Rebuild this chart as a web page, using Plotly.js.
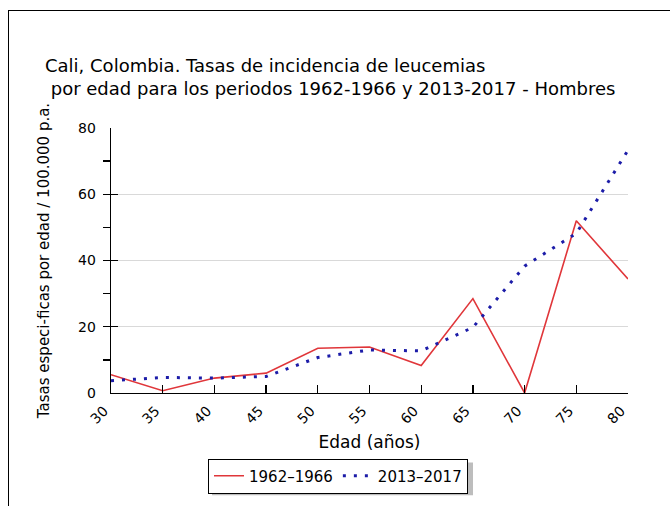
<!DOCTYPE html>
<html>
<head>
<meta charset="utf-8">
<script src="https://cdn.plot.ly/plotly-3.0.1.min.js"></script>
<style>
  html, body { margin: 0; padding: 0; background: #fff; overflow: hidden; }
  #frame { position: absolute; left: 8px; top: 10px; width: 700px; height: 600px;
           border-left: 1px solid #000; border-top: 1px solid #000; }
  #chart { position: absolute; left: 0; top: 0; width: 670px; height: 506px; }
</style>
</head>
<body>
<div id="frame"></div>
<div id="chart"></div>
<script>
// Age groups (years)
const ages = [30, 35, 40, 45, 50, 55, 60, 65, 70, 75, 80];
// Age-specific rates per 100,000 person-years
const rates1962_1966 = [5.5, 0.7, 4.5, 6.0, 13.5, 13.9, 8.3, 28.5, 0, 52.0, 34.4];
const rates2013_2017 = [3.7, 4.7, 4.5, 5.0, 10.7, 13.0, 12.7, 19.8, 38.3, 48.2, 73.3];
const seriesNames = ['1962\u20131966', '2013\u20132017'];
const yTicks = [0, 20, 40, 60, 80];

const FONT = '"DejaVu Sans", sans-serif';

const traces = [
  {
    x: ages, y: rates1962_1966, name: seriesNames[0], type: 'scatter', mode: 'lines',
    line: { color: '#e0363a', width: 1.6 }
  },
  {
    x: ages, y: rates2013_2017, name: seriesNames[1], type: 'scatter', mode: 'lines',
    line: { color: '#1c1ca8', width: 3, dash: '3px,8px' }
  }
];

const layout = {
  width: 670, height: 506,
  margin: { l: 111, r: 42, t: 128, b: 111 },
  paper_bgcolor: 'rgba(0,0,0,0)',
  plot_bgcolor: 'rgba(0,0,0,0)',
  font: { family: FONT, color: '#000', size: 13 },
  showlegend: true,
  title: {
    text: 'Cali, Colombia. Tasas de incidencia de leucemias<br> por edad para los periodos 1962-1966 y 2013-2017 - Hombres',
    x: 45 / 670, xanchor: 'left', xref: 'container',
    y: 1 - 72 / 506, yanchor: 'top', yref: 'container',
    font: { family: FONT, size: 18, color: '#000' }
  },
  xaxis: {
    range: [30, 80], tickmode: 'array', tickvals: ages, ticktext: ages.map(String),
    tickangle: -45, ticks: 'inside', ticklen: 8, tickcolor: '#000', tickwidth: 1.3,
    showline: true, linecolor: '#000', linewidth: 1.3, showgrid: false, zeroline: false,
    tickfont: { family: FONT, size: 14 },
    ticklabelshift: -7, ticklabelstandoff: 3,
    title: { text: 'Edad (años)', font: { family: FONT, size: 17 }, standoff: 10 },
    fixedrange: true
  },
  yaxis: {
    range: [0, 80], tickmode: 'array', tickvals: yTicks, ticktext: yTicks.map(String),
    ticks: 'inside', ticklen: 7, tickcolor: '#000', tickwidth: 1.3,
    showline: true, linecolor: '#000', linewidth: 1.3,
    showgrid: true, gridcolor: '#d9d9d9', gridwidth: 1, zeroline: false,
    minor: { dtick: 10, ticklen: 7, tickcolor: '#000', showgrid: false },
    tickfont: { family: FONT, size: 14 },
    ticklabelstandoff: 11,
    title: { text: 'Tasas especi-ficas por edad / 100.000 p.a.', font: { family: FONT, size: 15 }, standoff: 24 },
    fixedrange: true
  },
  legend: {
    orientation: 'h', x: (208 - 111) / 517, xanchor: 'left', y: (395 - 461) / 267, yanchor: 'top',
    bgcolor: '#fff', bordercolor: '#000', borderwidth: 1,
    font: { family: FONT, size: 15 }, itemwidth: 30, tracegroupgap: 0
  },
  shapes: [
    { type: 'rect', xref: 'paper', yref: 'paper', layer: 'below',
      x0: (212 - 111) / 517, x1: (473 - 111) / 517,
      y0: (395 - 465) / 267, y1: (395 - 498) / 267,
      fillcolor: '#bdbdbd', line: { width: 0 } }
  ]
};

Plotly.newPlot('chart', traces, layout, { displayModeBar: false, staticPlot: true });
</script>
</body>
</html>
